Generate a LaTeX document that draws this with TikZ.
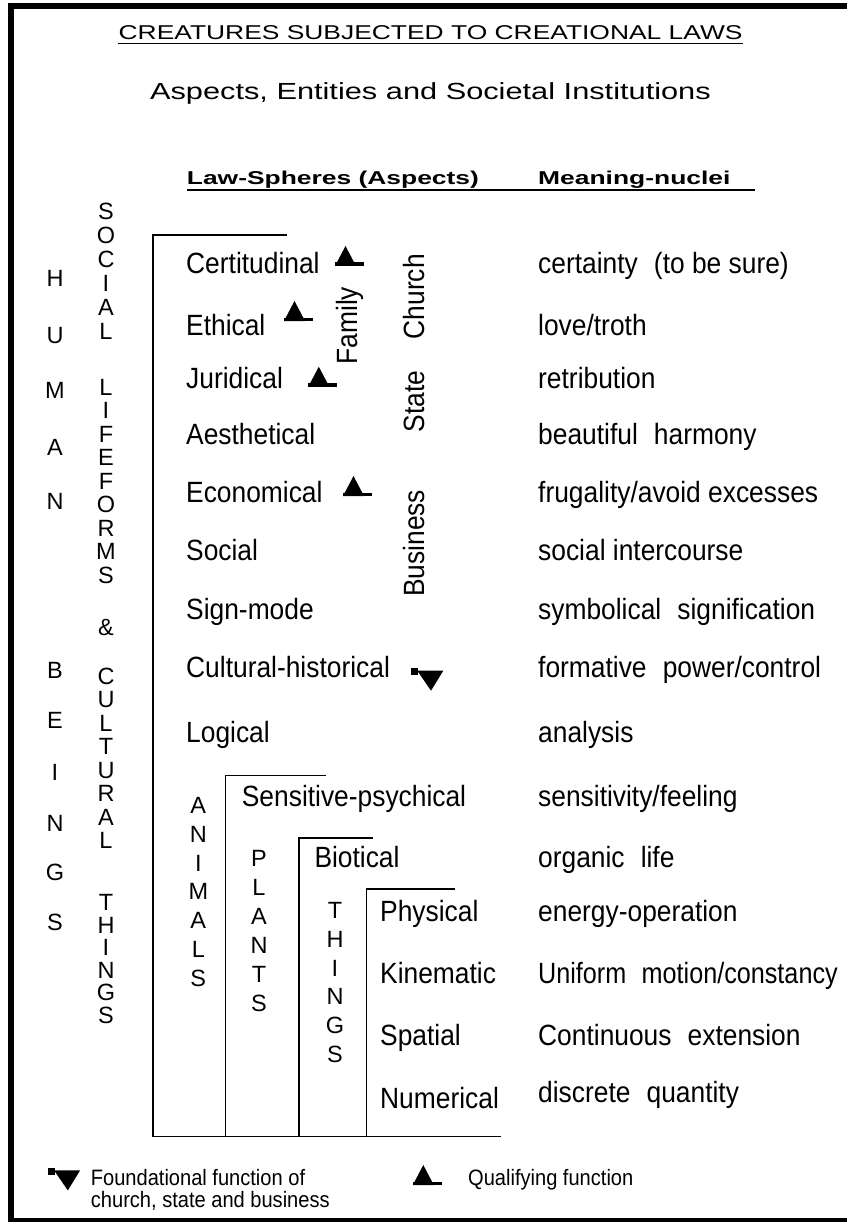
\documentclass[tikz,border=0pt]{standalone}
\usepackage{fontspec}
\setmainfont{Liberation Sans}
\newfontfamily\condf[FakeStretch=0.9]{Liberation Sans}
\newfontfamily\widef[FakeStretch=1.32]{Liberation Sans}
\newfontfamily\wideb[FakeStretch=1.42]{Liberation Sans}
\newcommand\twosp{\hskip0.55em\relax}
\begin{document}
\begin{tikzpicture}[x=1pt,y=-1pt,
  asp/.style={font=\condf\fontsize{29.3}{30}\selectfont, anchor=base west, inner sep=0pt},
  rottext/.style={font=\condf\fontsize{29.3}{30}\selectfont, anchor=base, rotate=90, inner sep=0pt},
  letter/.style={font=\fontsize{23.5}{24}\selectfont, anchor=base, inner sep=0pt},
  leg/.style={font=\condf\fontsize{22.3}{23}\selectfont, anchor=base west, inner sep=0pt},
  brk/.style={line width=1.2pt},
  qualsym/.pic={\fill (0,0) -- (21,0) -- (10.5,-20) -- cycle; \fill (0,0) rectangle (28.7,-3.5);},
  foundsym/.pic={\fill (0,0) rectangle (7.6,6.7); \fill (6.6,2.4) -- (32.6,2.4) -- (20.3,22.4) -- cycle;}
]
\useasboundingbox (0,0) rectangle (846,1222);
\fill[white] (0,0) rectangle (846,1222);
% frame
\draw[line width=6pt] (11,1230) -- (11,6) -- (860,6);
\draw[line width=5pt] (8,1220.5) -- (860,1220.5);
% titles
\node[font=\widef\fontsize{20}{20}\selectfont, anchor=base, inner sep=0pt] (title) at (430.6,39.3) {CREATURES SUBJECTED TO CREATIONAL LAWS};
\draw[line width=1.2pt] ([yshift=-4pt]title.base west) -- ([yshift=-4pt]title.base east);
\node[font=\widef\fontsize{23.3}{24}\selectfont, anchor=base, inner sep=0pt] (subtitle) at (430.4,100) {Aspects, Entities and Societal Institutions};
\node[font=\wideb\bfseries\fontsize{18.6}{19}\selectfont, anchor=base west, inner sep=0pt] (hlaw) at (186.7,185) {Law-Spheres (Aspects)};
\node[font=\wideb\bfseries\fontsize{18.6}{19}\selectfont, anchor=base west, inner sep=0pt] (hmean) at (538,185) {Meaning-nuclei};
\coordinate (ul1) at (186.7,190);
\coordinate (ul2) at (754.8,190);
\draw[line width=1.2pt] (ul1) -- (ul2);
% brackets
\coordinate (b0a) at (286.5,235); \coordinate (b0b) at (153,235); \coordinate (b0c) at (153,1136.7); \coordinate (b0d) at (501,1136.7);
\draw[brk] (b0a) -- (b0b) -- (b0c) -- (b0d);
\coordinate (b1a) at (326,775.7); \coordinate (b1b) at (225.7,775.7); \coordinate (b1c) at (225.7,1136.7);
\draw[brk] (b1a) -- (b1b) -- (b1c);
\coordinate (b2a) at (373,838); \coordinate (b2b) at (299,838); \coordinate (b2c) at (299,1136.7);
\draw[brk] (b2a) -- (b2b) -- (b2c);
\coordinate (b3a) at (454.5,889); \coordinate (b3b) at (366.7,889); \coordinate (b3c) at (366.7,1136.7);
\draw[brk] (b3a) -- (b3b) -- (b3c);
% aspects
\node[asp] (a1) at (186,273.3) {Certitudinal};
\node[asp] (a2) at (186,335) {Ethical};
\node[asp] (a3) at (186,388.3) {Juridical};
\node[asp] (a4) at (186,444.3) {Aesthetical};
\node[asp] (a5) at (186,502) {Economical};
\node[asp] (a6) at (186,560) {Social};
\node[asp] (a7) at (186,619) {Sign-mode};
\node[asp] (a8) at (186,677) {Cultural-historical};
\node[asp] (a9) at (186,742) {Logical};
\node[asp] (a10) at (241.7,806.7) {Sensitive-psychical};
\node[asp] (a11) at (314.3,867.3) {Biotical};
\node[asp] (a12) at (380,921.7) {Physical};
\node[asp] (a13) at (380,983.3) {Kinematic};
\node[asp] (a14) at (380,1045) {Spatial};
\node[asp] (a15) at (380,1108.3) {Numerical};
% meaning nuclei
\node[asp] (m1) at (538,273.3) {certainty\twosp(to be sure)};
\node[asp] (m2) at (538,335) {love/troth};
\node[asp] (m3) at (538,388.3) {retribution};
\node[asp] (m4) at (538,444.3) {beautiful\twosp harmony};
\node[asp] (m5) at (538,502) {frugality/avoid excesses};
\node[asp] (m6) at (538,560) {social intercourse};
\node[asp] (m7) at (538,619) {symbolical\twosp signification};
\node[asp] (m8) at (538,677) {formative\twosp power/control};
\node[asp] (m9) at (538,742) {analysis};
\node[asp] (m10) at (538,806.7) {sensitivity/feeling};
\node[asp] (m11) at (538,867.3) {organic\twosp life};
\node[asp] (m12) at (538,921.7) {energy-operation};
\node[asp] (m13) at (538,983.3) {\scalebox{0.955}[1]{Uniform\twosp motion/constancy}};
\node[asp] (m14) at (538,1045) {Continuous\twosp extension};
\node[asp] (m15) at (538,1102) {discrete\twosp quantity};
% symbols
\pic at (335,266) {qualsym};
\pic at (284,321) {qualsym};
\pic at (308.3,386.7) {qualsym};
\pic at (343,496) {qualsym};
\pic at (410.7,668.3) {foundsym};
% rotated institutions
\node[rottext] (fam) at (357.7,325.7) {Family};
\node[rottext] (church) at (424.5,296.7) {Church};
\node[rottext] (state) at (424.5,401.5) {State};
\node[rottext] (bus) at (424.5,543.3) {Business};
% stacked letters
\foreach \c/\y [count=\i] in {H/278.5,U/335,M/390,A/447.5,N/501.5,B/670,E/720,I/772,N/823,G/872,S/922}
  \node[letter] (hb\i) at (55,\y+8.4) {\c};
\foreach \c/\y [count=\i] in {S/211,O/235,C/259,I/283,A/307,L/331,L/387,I/410.5,F/434,E/457.5,F/481,O/504.5,R/528,M/551.5,S/575,\&/627,C/676,U/699.5,L/723,T/746.5,U/770,R/793.5,A/817,L/840.5,T/902.5,H/925,I/947.5,N/970,G/992.5,S/1015}
  \node[letter] (sl\i) at (106,\y+8.4) {\c};
\foreach \c [count=\i] in {A,N,I,M,A,L,S}
  \node[letter] (an\i) at (198.3,805+28.8*\i-28.8+8.4) {\c};
\foreach \c [count=\i] in {P,L,A,N,T,S}
  \node[letter] (pl\i) at (259,858.3+29*\i-29+8.4) {\c};
\foreach \c [count=\i] in {T,H,I,N,G,S}
  \node[letter] (th\i) at (335,910+28.8*\i-28.8+8.4) {\c};
% legend
\pic at (47.5,1168) {foundsym};
\node[leg] (l1) at (90.7,1185) {Foundational function of};
\node[leg] (l2) at (90.7,1207) {church, state and business};
\pic at (412.8,1185) {qualsym};
\node[leg] (l3) at (468,1185) {Qualifying function};
\end{tikzpicture}
\end{document}
